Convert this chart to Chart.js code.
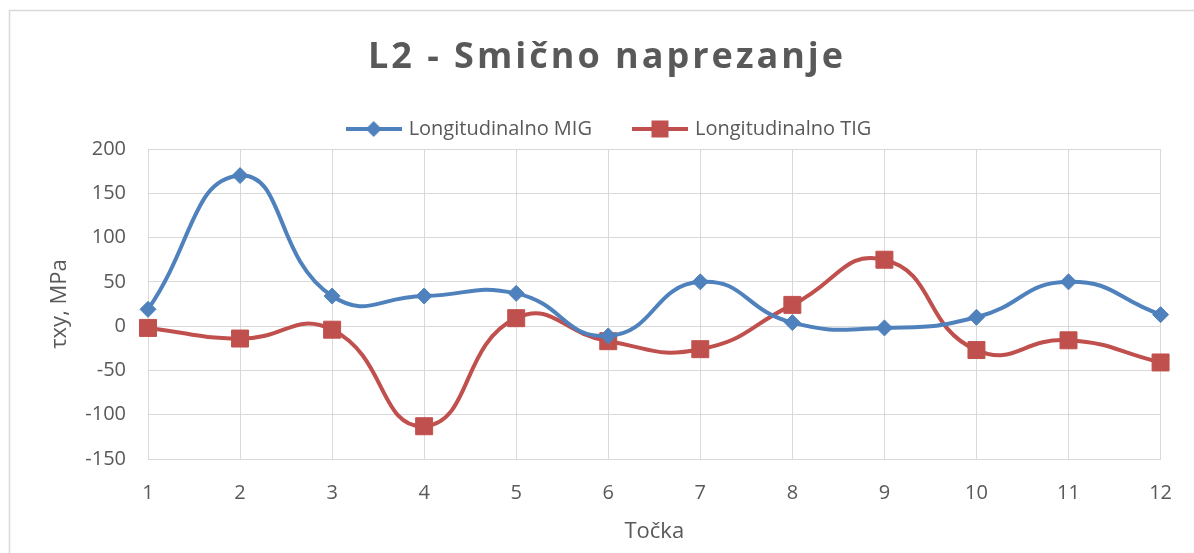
<!DOCTYPE html>
<html>
<head>
<meta charset="utf-8">
<title>L2 - Smično naprezanje</title>
<script src="https://cdn.jsdelivr.net/npm/chart.js@4.4.1/dist/chart.umd.min.js"></script>
<style>
  html, body { margin: 0; padding: 0; background: #fff; }
  #wrap { width: 1194px; height: 553px; }
</style>
</head>
<body>
<div id="wrap"><canvas id="shear-canvas" width="1194" height="553"></canvas></div>
<script>
const titleText = 'L2 - Smično naprezanje';
const points = ['1', '2', '3', '4', '5', '6', '7', '8', '9', '10', '11', '12'];
const migValues = [19, 170, 34, 34, 37, -11, 50, 4, -2, 10, 50, 13];
const tigValues = [-2, -14, -4, -113, 9, -17, -26, 24, 75, -27, -16, -41];
const yTicks = [-150, -100, -50, 0, 50, 100, 150, 200];

const BLUE = '#4f81bd';
const RED = '#c0504d';
const TEXT = '#595959';
const GRID = '#d9d9d9';
const FONT = '"Open Sans", "Liberation Sans", sans-serif';

// little line + marker swatch for the legend, Excel style
function swatch(color, marker) {
  const c = document.createElement('canvas');
  c.width = 56;
  c.height = 20;
  const g = c.getContext('2d');
  g.strokeStyle = color;
  g.lineWidth = 4;
  g.beginPath();
  g.moveTo(0, 10);
  g.lineTo(56, 10);
  g.stroke();
  g.fillStyle = color;
  if (marker === 'diamond') {
    g.beginPath();
    g.moveTo(28 - 8, 10);
    g.lineTo(28, 2);
    g.lineTo(28 + 8, 10);
    g.lineTo(28, 18);
    g.closePath();
    g.fill();
  } else {
    g.fillRect(28 - 8.5, 10 - 8.5, 17, 17);
  }
  return c;
}

const legendIcons = [swatch(BLUE, 'diamond'), swatch(RED, 'square')];

const frameAndTitle = {
  id: 'frameAndTitle',
  beforeDraw(chart) {
    const ctx = chart.ctx;
    ctx.save();
    ctx.fillStyle = '#fff';
    ctx.fillRect(0, 0, chart.width, chart.height);
    ctx.strokeStyle = GRID;
    ctx.lineWidth = 1.5;
    ctx.strokeRect(9.5, 10.5, chart.width + 20, chart.height + 20);
    ctx.font = 'bold 36px ' + FONT;
    ctx.letterSpacing = '3px';
    ctx.fillStyle = TEXT;
    ctx.textAlign = 'center';
    ctx.textBaseline = 'middle';
    ctx.fillText(titleText, 607, 58);
    ctx.letterSpacing = '0px';
    ctx.restore();
  }
};

const data = {
  labels: points,
  datasets: [{
    label: 'Longitudinalno MIG',
    data: migValues,
    borderColor: BLUE,
    backgroundColor: BLUE,
    borderWidth: 4,
    tension: 0.5,
    pointStyle: 'rectRot',
    pointRadius: 8,
    pointHoverRadius: 8,
    pointBorderWidth: 1
  }, {
    label: 'Longitudinalno TIG',
    data: tigValues,
    borderColor: RED,
    backgroundColor: RED,
    borderWidth: 4,
    tension: 0.5,
    pointStyle: 'rect',
    pointRadius: 12,
    pointHoverRadius: 12,
    pointBorderWidth: 1
  }]
};

const config = {
  type: 'line',
  data,
  plugins: [frameAndTitle],
  options: {
    responsive: false,
    animation: false,
    layout: {
      padding: { top: 76, left: 26, right: 0, bottom: 0 }
    },
    plugins: {
      title: { display: false },
      tooltip: { enabled: false },
      legend: {
        position: 'top',
        labels: {
          color: TEXT,
          font: { family: FONT, size: 20 },
          usePointStyle: true,
          pointStyleWidth: 50,
          padding: 43,
          generateLabels(chart) {
            const items = Chart.defaults.plugins.legend.labels.generateLabels(chart);
            items.forEach((item, i) => { item.pointStyle = legendIcons[i]; });
            return items;
          }
        }
      }
    },
    scales: {
      x: {
        type: 'category',
        offset: false,
        grid: { color: GRID, lineWidth: 1, drawTicks: false, offset: false },
        border: { color: GRID, width: 1 },
        ticks: { color: TEXT, font: { family: FONT, size: 20 }, padding: 22, maxRotation: 0, autoSkip: false },
        title: {
          display: true,
          text: 'Točka',
          color: TEXT,
          font: { family: FONT, size: 22 },
          padding: { top: 0, bottom: 8 }
        },
        afterFit(scale) { scale.height = 94; }
      },
      y: {
        min: yTicks[0],
        max: yTicks[yTicks.length - 1],
        grid: { color: GRID, lineWidth: 1, drawTicks: false },
        border: { color: GRID, width: 1 },
        ticks: { color: TEXT, font: { family: FONT, size: 20 }, padding: 22, stepSize: yTicks[1] - yTicks[0] },
        title: {
          display: true,
          text: 'τxy, MPa',
          color: TEXT,
          font: { family: FONT, size: 22 },
          padding: { top: 21, bottom: 0 }
        },
        afterFit(scale) { scale.width = 122; }
      },
      // empty right-hand axis, only keeps the plot clear of the right edge
      spacer: {
        position: 'right',
        display: true,
        grid: { display: false },
        border: { display: false },
        ticks: { display: false },
        afterFit(scale) { scale.width = 31; }
      }
    }
  }
};

const shearChart = new Chart(document.getElementById('shear-canvas'), config);
</script>
</body>
</html>
